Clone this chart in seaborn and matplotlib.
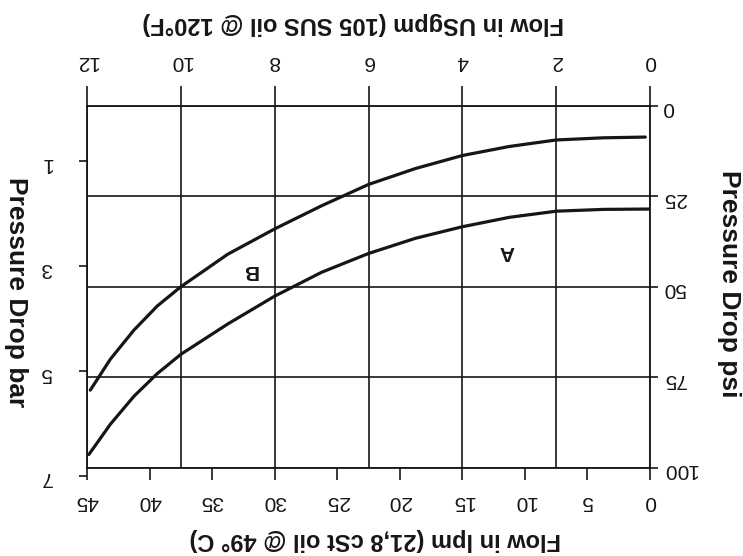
import matplotlib
matplotlib.use("Agg")
import matplotlib.pyplot as plt
import seaborn as sns
import pandas as pd

# ---------------- data ----------------
gpm_B = [0.1, 1, 2, 3, 4, 5, 6, 7, 8, 9, 10, 10.5, 11, 11.5, 11.93]
psi_B = [8.6, 8.8, 9.4, 11.2, 13.7, 17.3, 21.7, 27.6, 34.0, 41.0, 50.0, 55.3, 62.0, 70.0, 78.6]
gpm_A = [0.0, 1, 2, 3, 4, 5, 6, 7, 8, 9, 10, 10.5, 11, 11.5, 11.96]
psi_A = [28.5, 28.6, 29.1, 30.8, 33.4, 36.6, 40.8, 46.0, 52.6, 60.3, 68.7, 74.0, 80.3, 88.0, 96.4]

gpm_ticks = [0, 2, 4, 6, 8, 10, 12]
lpm_ticks = [0, 5, 10, 15, 20, 25, 30, 35, 40, 45]
psi_ticks = [0, 25, 50, 75, 100]
bar_ticks = [1, 3, 5, 7]

title_gpm = "Flow in USgpm (105 SUS oil @ 120°F)"
title_lpm = "Flow in lpm (21,8 cSt oil @ 49° C)"
title_psi = "Pressure Drop psi"
title_bar = "Pressure Drop bar"
curve_labels = ["A", "B"]

# ---------------- style ----------------
sns.set_theme(style="white")
plt.rcParams["font.family"] = ["Liberation Sans", "DejaVu Sans"]
INK = "#161616"

W_PX, H_PX = 743, 556
fig = plt.figure(figsize=(W_PX / 100, H_PX / 100), dpi=100)
fig.patch.set_facecolor("white")

def rect(x0, y0, x1, y1):
    return [x0 / W_PX, 1 - y1 / H_PX, (x1 - x0) / W_PX, (y1 - y0) / H_PX]

BOX = (87, 106, 650, 467.5)
ax = fig.add_axes(rect(*BOX))

df = pd.DataFrame({
    "gpm": gpm_A + gpm_B,
    "psi": psi_A + psi_B,
    "curve": ["A"] * len(gpm_A) + ["B"] * len(gpm_B),
})
sns.lineplot(data=df, x="gpm", y="psi", hue="curve", palette=[INK, INK],
             estimator=None, legend=False, linewidth=2.3, ax=ax)
for ln in ax.lines:
    ln.set_solid_joinstyle("round")
    ln.set_solid_capstyle("round")

ax.set_xlim(12, 0)
ax.set_ylim(100, 0)
ax.set_xticks(gpm_ticks)
ax.set_yticks(psi_ticks)
ax.set_xlabel("")
ax.set_ylabel("")
ax.grid(True, color=INK, linewidth=1.2)
for s in ax.spines.values():
    s.set_visible(True)
    s.set_color(INK)
    s.set_linewidth(1.3)
ax.xaxis.tick_top()
ax.yaxis.tick_right()
ax.tick_params(axis="x", direction="out", length=14.4, width=1.2, color=INK,
               pad=10.5, labelsize=15, labelrotation=180, labelcolor=INK)
ax.tick_params(axis="y", direction="out", length=6, width=1.2, color=INK,
               pad=3, labelsize=15, labelrotation=180, labelcolor=INK)

# curve labels
ax.text(3.05, 40.3, curve_labels[0], rotation=180, fontsize=15, fontweight="bold",
        ha="center", va="center", color=INK)
ax.text(8.53, 45.4, curve_labels[1], rotation=180, fontsize=15, fontweight="bold",
        ha="center", va="center", color=INK)

# lpm axis (bottom)
ax_l = fig.add_axes(rect(*BOX), frameon=False)
ax_l.patch.set_visible(False)
ax_l.set_xlim(45, 0)
ax_l.set_xticks(lpm_ticks)
ax_l.yaxis.set_visible(False)
ax_l.xaxis.tick_bottom()
ax_l.tick_params(axis="x", direction="out", length=8.6, width=1.2, color=INK,
                 pad=9, labelsize=15, labelrotation=180, labelcolor=INK)

# bar axis (left)
top_bar = BOX[1] + 3
bot_bar = top_bar + (BOX[3] - BOX[1]) * 101.5 / 100
ax_b = fig.add_axes(rect(BOX[0], top_bar, BOX[2], bot_bar), frameon=False)
ax_b.patch.set_visible(False)
ax_b.set_ylim(7, 0)
ax_b.set_yticks(bar_ticks)
ax_b.xaxis.set_visible(False)
ax_b.yaxis.tick_left()
ax_b.tick_params(axis="y", direction="out", length=6, width=1.2, color=INK,
                 pad=19, labelsize=15, labelrotation=180, labelcolor=INK)

# axis titles
def ftext(x, y, s, rot, size):
    fig.text(x / W_PX, 1 - y / H_PX, s, rotation=rot, fontsize=size,
             fontweight="bold", ha="center", va="center", color=INK)

ftext(353, 24, title_gpm, 180, 17)
ftext(375, 540, title_lpm, 180, 17)
ftext(729, 284, title_psi, 270, 19)
ftext(16, 292, title_bar, 270, 19)

fig.savefig("out.png", dpi=100, facecolor="white")
